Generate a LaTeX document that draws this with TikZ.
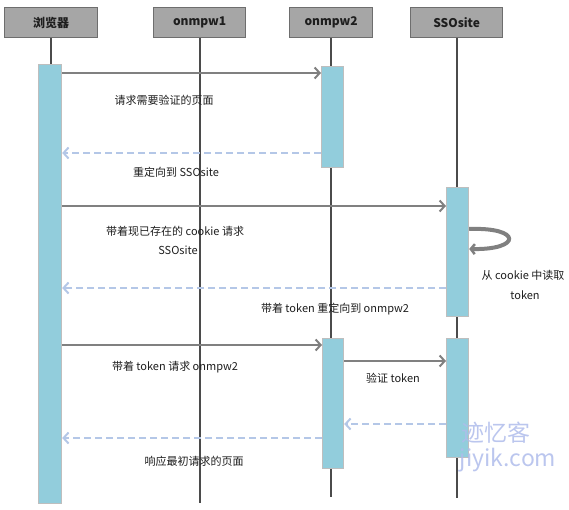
\documentclass[tikz,border=0pt]{standalone}
\usepackage{fontspec}
\setmainfont{Noto Sans CJK SC}
\usetikzlibrary{arrows.meta}
\definecolor{hdrfill}{RGB}{166,166,166}
\definecolor{hdrdraw}{RGB}{110,110,110}
\definecolor{barfill}{RGB}{146,205,220}
\definecolor{bardraw}{RGB}{190,190,190}
\definecolor{lifec}{RGB}{75,75,75}
\definecolor{msgc}{RGB}{128,128,128}
\definecolor{retc}{RGB}{180,199,231}
\definecolor{txtc}{RGB}{30,30,30}
\definecolor{wmc}{RGB}{175,188,235}
\tikzset{
  hdr/.style={draw=hdrdraw, line width=1.2pt, fill=hdrfill, anchor=north west, inner sep=0pt, minimum height=30pt, font=\fontsize{12}{14}\selectfont\bfseries, text=txtc},
  bar/.style={draw=bardraw, line width=1.2pt, fill=barfill, anchor=north west, inner sep=0pt},
  life/.style={draw=lifec, line width=1.8pt},
  msg/.style={draw=msgc, line width=2pt, -{Straight Barb[length=5pt,width=11pt,line width=2pt]}},
  ret/.style={draw=retc, line width=2pt, dash pattern=on 7pt off 4pt, -{Straight Barb[length=5pt,width=11pt,line width=2pt]}},
  lbl/.style={font=\fontsize{11}{13}\selectfont, text=txtc, inner sep=0pt},
  wm/.style={font=\fontsize{23}{26}\selectfont, text=wmc, opacity=0.85, inner sep=0pt}
}
\begin{document}
\begin{tikzpicture}[x=1pt,y=-1pt]
\useasboundingbox (0,0) rectangle (569,510);
% headers
\node[hdr, minimum width=93pt] (hA) at (4,7) {浏览器};
\node[hdr, minimum width=92pt] (h1) at (153,7) {onmpw1};
\node[hdr, minimum width=83pt] (h2) at (289,7) {onmpw2};
\node[hdr, minimum width=92pt] (hS) at (410,7) {SSOsite};
% lifeline ends
\coordinate (eA) at (50,503);
\coordinate (e1) at (195,503);
\coordinate (e2) at (332,497);
\coordinate (eS) at (457,498);
\draw[life] (hA.south) -- (hA.south |- eA);
\draw[life] (h1.south) -- (h1.south |- e1);
\draw[life] (h2.south) -- (h2.south |- e2);
\draw[life] (hS.south) -- (hS.south |- eS);
% activation bars
\node[bar, minimum width=23pt, minimum height=439pt] (bA) at (38,64) {};
\node[bar, minimum width=22pt, minimum height=101pt] (b2a) at (321,66) {};
\node[bar, minimum width=22pt, minimum height=129pt] (bSa) at (446,187) {};
\node[bar, minimum width=21pt, minimum height=130pt] (b2b) at (322,338) {};
\node[bar, minimum width=22pt, minimum height=119pt] (bSb) at (446,338) {};
% message levels
\coordinate (y1) at (0,73);
\coordinate (y2) at (0,153);
\coordinate (y3) at (0,206);
\coordinate (y4) at (0,288);
\coordinate (y5) at (0,345);
\coordinate (y6) at (0,361);
\coordinate (y7) at (0,424);
\coordinate (y8) at (0,438);
\draw[msg] (bA.east |- y1) -- (b2a.west |- y1);
\draw[ret] (b2a.west |- y2) -- (bA.east |- y2);
\draw[msg] (bA.east |- y3) -- (bSa.west |- y3);
\draw[ret] (bSa.west |- y4) -- (bA.east |- y4);
\draw[msg] (bA.east |- y5) -- (b2b.west |- y5);
\draw[msg] (b2b.east |- y6) -- (bSb.west |- y6);
\draw[ret] (bSb.west |- y7) -- (b2b.east |- y7);
\draw[ret] (b2b.west |- y8) -- (bA.east |- y8);
% self loop
\coordinate (sl1) at (0,229);
\coordinate (sl2) at (0,249);
\draw[draw=msgc, line width=4pt, -{Straight Barb[length=4pt,width=10pt,line width=2.5pt]}]
  (bSa.east |- sl1) .. controls (522,227) and (522,250) .. (bSa.east |- sl2);
% labels
\node[lbl] (t1) at (164,100) {请求需要验证的页面};
\node[lbl] (t2) at (176,172) {重定向到 SSOsite};
\node[lbl, anchor=west] (t3) at (106,231) {带着现已存在的 cookie 请求};
\node[lbl] (t3b) at (178,250) {SSOsite};
\node[lbl] (t4) at (335,309) {带着 token 重定向到 onmpw2};
\node[lbl] (t5) at (523,275) {从 cookie 中读取};
\node[lbl] (t5b) at (525,295) {token};
\node[lbl] (t6) at (175,367) {带着 token 请求 onmpw2};
\node[lbl] (t7) at (393,378) {验证 token};
\node[lbl] (t8) at (194,461) {响应最初请求的页面};
% watermark
\node[wm] (w1) at (496,433) {迹忆客};
\node[wm] (w2) at (508,460) {jiyik.com};
\end{tikzpicture}
\end{document}
